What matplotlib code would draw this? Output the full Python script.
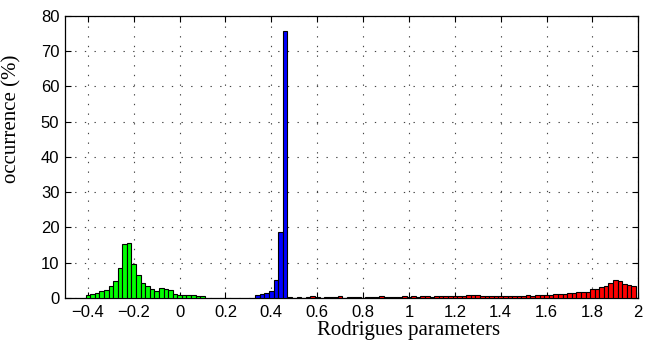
import numpy as np
import matplotlib
matplotlib.use('Agg')
import matplotlib.pyplot as plt

bin_width = 0.02

# green group: bins starting at -0.41
green_start = -0.41
green_vals = [0.85, 1.1, 1.5, 2.0, 2.3, 3.3, 4.7, 8.5, 15.3, 15.5, 9.5, 6.4, 4.2,
              3.4, 2.6, 2.1, 2.9, 2.6, 2.2, 1.2, 0.9, 0.85, 0.85, 0.85, 0.65, 0.55]

# blue group
blue_start = 0.33
blue_vals = [0.7, 1.2, 1.4, 1.9, 5.2, 18.7, 75.7]

# red group
red_start = 0.47
red_vals = [0.2, 0.1, 0.3, 0.1, 0.2, 0.4, 0.2, 0.1, 0.2, 0.2, 0.3, 0.4, 0.1,
            0.2, 0.3, 0.2, 0.1, 0.2, 0.3, 0.2, 0.4, 0.2, 0.3, 0.2, 0.3, 0.4,
            0.3, 0.4, 0.3, 0.5, 0.4, 0.3, 0.5, 0.4, 0.5, 0.6, 0.5, 0.6, 0.4,
            0.7, 0.9, 0.8, 0.6, 0.5, 0.6, 0.5, 0.4, 0.6,
            0.5, 0.6, 0.5, 0.6, 0.7, 0.6, 0.7, 0.8, 0.8, 0.9, 1.0, 1.1, 1.2, 1.3,
            1.3, 1.6, 1.8, 1.8, 2.5, 2.6, 3.1, 3.5, 4.1, 5.0, 4.9, 3.9, 3.7, 3.3]

x_ticks = [-0.4, -0.2, 0, 0.2, 0.4, 0.6, 0.8, 1, 1.2, 1.4, 1.6, 1.8, 2]
x_labels = ['\u22120.4', '\u22120.2', '0', '0.2', '0.4', '0.6', '0.8', '1',
            '1.2', '1.4', '1.6', '1.8', '2']
y_ticks = list(range(0, 81, 10))

fig = plt.figure(figsize=(6.56, 3.46), dpi=100)
ax = fig.add_axes([0.099, 0.139, 0.874, 0.815])

for start, vals, col in [(green_start, green_vals, '#00ff00'),
                         (blue_start, blue_vals, '#0000ff'),
                         (red_start, red_vals, '#ff0000')]:
    lefts = start + bin_width * np.arange(len(vals))
    ax.bar(lefts, vals, width=bin_width, align='edge', color=col,
           edgecolor='black', linewidth=0.8, zorder=3)

ax.set_xlim(-0.5, 2)
ax.set_ylim(0, 80)
ax.set_xticks(x_ticks)
ax.set_xticklabels(x_labels, family='Liberation Sans', fontsize=12)
ax.set_yticks(y_ticks)
ax.set_yticklabels([str(v) for v in y_ticks], family='Liberation Sans', fontsize=12)
ax.tick_params(direction='in', top=True, right=True, length=4, width=0.8)
ax.tick_params(axis='x', pad=5)
ax.tick_params(axis='y', pad=4)
ax.grid(True, linestyle=(0, (1.2, 7.5)), color='#444444', linewidth=0.8, zorder=0)
for s in ax.spines.values():
    s.set_linewidth(0.9)

ax.set_xlabel('Rodrigues parameters', family='Liberation Serif', fontsize=15)
ax.set_ylabel('occurrence (%)', family='Liberation Serif', fontsize=15)
# labels sit off-centre in the reference
ax.xaxis.set_label_coords(0.599, -0.083)
ax.yaxis.set_label_coords(-0.075, 0.635)

fig.savefig('out.png', dpi=100)
